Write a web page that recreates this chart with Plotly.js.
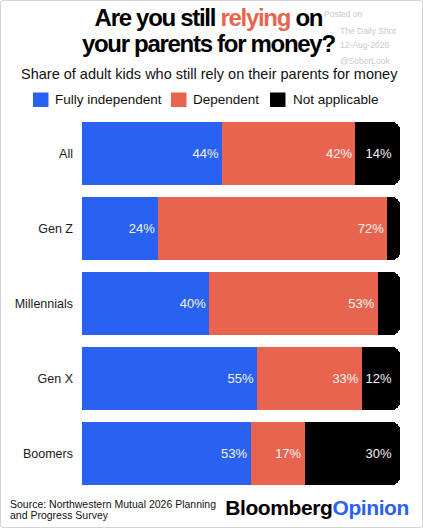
<!DOCTYPE html>
<html>
<head>
<meta charset="utf-8">
<script src="https://cdn.plot.ly/plotly-3.0.1.min.js"></script>
<style>
  html, body { margin: 0; padding: 0; background: #ffffff; }
  #wrap { position: relative; width: 423px; height: 528px; overflow: hidden; }
  #chart { position: absolute; left: 0; top: 0; width: 423px; height: 528px; }
  #frame { position: absolute; left: 0; top: 0; width: 423px; height: 528px; box-sizing: border-box;
           border: 1.5px solid #d4d4d4; border-radius: 3px; pointer-events: none; }
</style>
</head>
<body>
<div id="wrap"><div id="chart"></div><div id="frame"></div></div>
<script>
// ---- data ----
const categories = ['All', 'Gen Z', 'Millennials', 'Gen X', 'Boomers'];
const independent = [44, 24, 40, 55, 53];
const dependent = [42, 72, 53, 33, 17];
const notApplicable = [14, 4, 7, 12, 30];
const seriesNames = ['Fully independent', 'Dependent', 'Not applicable'];

const BLUE = '#2962F0', RED = '#E8644F', BLACK = '#000000';
const FONT = 'Liberation Sans, Arial, Helvetica, sans-serif';

function labels(vals) { return vals.map(v => v >= 10 ? v + '%' : ''); }

function series(vals, name, color) {
  return {
    type: 'bar', orientation: 'h', name: name,
    y: categories, x: vals,
    text: labels(vals), textposition: 'inside', insidetextanchor: 'end',
    textangle: 0, constraintext: 'none',
    textfont: { family: FONT, size: 13, color: '#f4f4f4' },
    marker: { color: color, line: { width: 0 } },
    hoverinfo: 'skip', showlegend: false
  };
}

const data = [
  series(independent, seriesNames[0], BLUE),
  series(dependent, seriesNames[1], RED),
  series(notApplicable, seriesNames[2], BLACK)
];

const W = 423, H = 528;
const ML = 82, MR = 23, MT = 116, MB = 37;
const PW = W - ML - MR, PH = H - MT - MB;
const fx = (x) => (x - ML) / PW;
const fy = (y) => 1 - (y - MT) / PH;

const annotations = [];
function ann(text, x, y, size, opts) {
  annotations.push(Object.assign({
    xref: 'paper', yref: 'paper', x: fx(x), y: fy(y), text: text, showarrow: false,
    xanchor: 'left', yanchor: 'middle',
    font: { family: FONT, size: size, color: '#000' }
  }, opts || {}));
}

// watermark (drawn first, under the title)
const wmFont = { family: FONT, size: 8.5, color: '#c9c9c9' };
ann('Posted on', 322, 14, 8.5, { font: wmFont });
ann('The Daily Shot', 338, 31, 8.5, { font: wmFont });
ann('12-Aug-2026', 338, 45, 8.5, { font: wmFont });
ann('@SoberLook', 338, 61, 8.5, { font: wmFont });

// title
ann('Are you still <span style="color:' + RED + '">relying</span> on', 208, 18, 24,
    { xanchor: 'center', font: { family: FONT, size: 24, color: '#000', weight: 700 } });
ann('your parents for money?', 208, 43, 24,
    { xanchor: 'center', font: { family: FONT, size: 24, color: '#000', weight: 700 } });
// subtitle
ann('Share of adult kids who still rely on their parents for money', 209, 74, 14.5,
    { xanchor: 'center', font: { family: FONT, size: 14.5, color: '#111' } });

// legend
const legendItems = [
  { x: 33, tx: 53, color: BLUE, label: seriesNames[0] },
  { x: 171, tx: 191, color: RED, label: seriesNames[1] },
  { x: 270, tx: 291, color: BLACK, label: seriesNames[2] }
];
const shapes = [];
legendItems.forEach(it => {
  shapes.push({ type: 'rect', xref: 'paper', yref: 'paper',
    x0: fx(it.x), x1: fx(it.x + 15.5), y0: fy(107), y1: fy(92.5),
    fillcolor: it.color, line: { width: 0 } });
  ann(it.label, it.tx, 99.5, 13.5, { font: { family: FONT, size: 13.5, color: '#111' } });
});

// footer
ann('Source: Northwestern Mutual 2026 Planning', 8, 503.5, 10.5, { font: { family: FONT, size: 10.5, color: '#111' } });
ann('and Progress Survey', 8, 515, 10.5, { font: { family: FONT, size: 10.5, color: '#111' } });
ann('Bloomberg<span style="color:' + BLUE + '">Opinion</span>', 414, 508, 21,
    { xanchor: 'right', font: { family: FONT, size: 21, color: '#000', weight: 700 } });

const layout = {
  width: W, height: H,
  margin: { l: ML, r: MR, t: MT, b: MB, pad: 0 },
  paper_bgcolor: '#ffffff', plot_bgcolor: '#ffffff',
  barmode: 'stack', bargap: 0.16, barcornerradius: 8,
  showlegend: false,
  xaxis: { range: [0, 100], visible: false, fixedrange: true },
  yaxis: {
    autorange: 'reversed', showgrid: false, zeroline: false, showline: false,
    ticks: '', ticklabelstandoff: 8,
    tickfont: { family: FONT, size: 12.5, color: '#1a1a1a' }
  },
  annotations: annotations,
  shapes: shapes
};

Plotly.newPlot('chart', data, layout, { displayModeBar: false, staticPlot: true }).then(() => {
  const nodes = document.querySelectorAll('#chart .annotation-text');
  // title lines tightened like the original display face
  if (nodes[4]) nodes[4].style.letterSpacing = '-1.3px';
  if (nodes[5]) nodes[5].style.letterSpacing = '-1.3px';
  if (nodes[nodes.length - 1]) nodes[nodes.length - 1].style.letterSpacing = '-0.4px';
});
</script>
</body>
</html>
